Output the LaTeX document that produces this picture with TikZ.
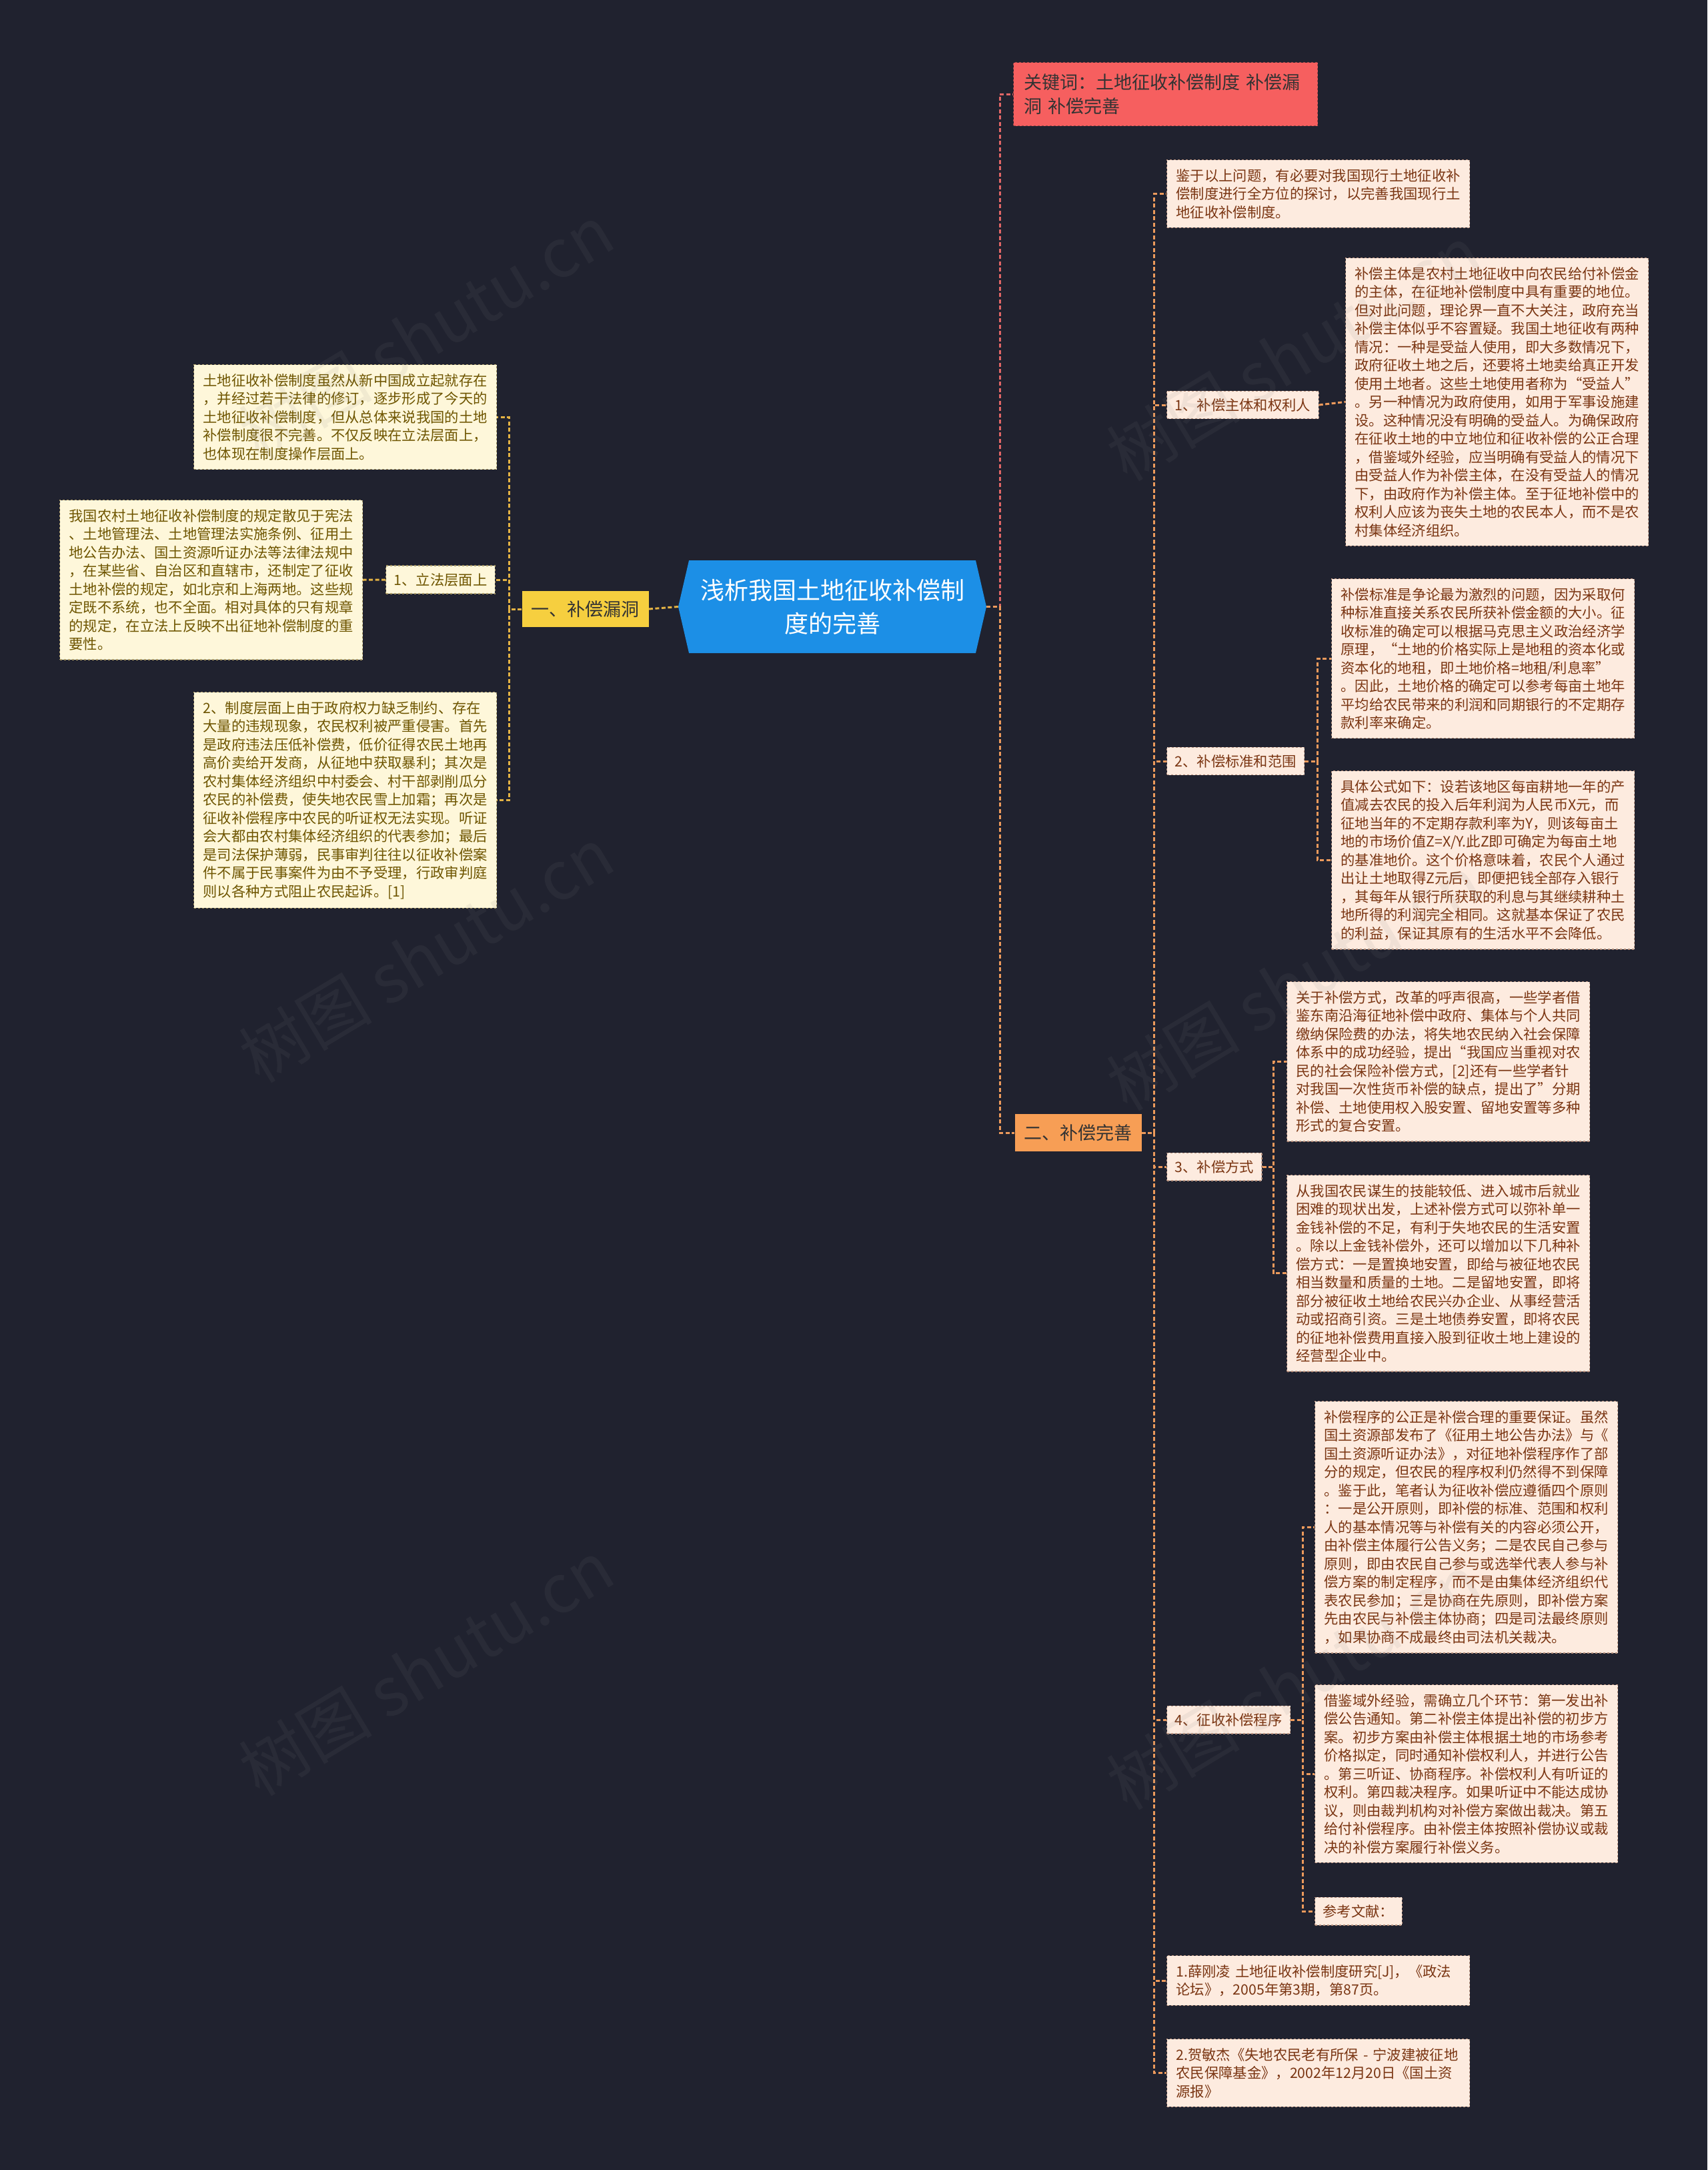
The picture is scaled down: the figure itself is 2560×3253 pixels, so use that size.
\documentclass[tikz,border=0pt]{standalone}
\usepackage{fontspec}
\setmainfont{Noto Sans CJK SC}
\usetikzlibrary{shapes.symbols}
\definecolor{bgnavy}{HTML}{20222F}
\definecolor{ctrblue}{HTML}{1C8FE6}
\definecolor{kwred}{HTML}{F65F5F}
\definecolor{kwline}{HTML}{E06666}
\definecolor{oneyel}{HTML}{F6CF3F}
\definecolor{oneline}{HTML}{E3B244}
\definecolor{twoorg}{HTML}{F79E55}
\definecolor{twoline}{HTML}{EC9A5C}
\definecolor{creamfill}{HTML}{FEF7DA}
\definecolor{creamtext}{HTML}{6E5500}
\definecolor{peachfill}{HTML}{FDEBDF}
\definecolor{peachtext}{HTML}{7A3512}
\newcommand\leaffont{\fontsize{21.3}{27.5}\selectfont}
\newcommand\branchfont{\fontsize{27}{36}\selectfont}
\newcommand\rootfont{\fontsize{36}{50}\selectfont}
\begin{document}
\begin{tikzpicture}[x=1pt,y=-1pt,
  box/.style={draw, dashed, line width=1.2pt, font=\leaffont, align=left, inner xsep=14pt, inner ysep=13.5pt},
  leafL/.style={box, fill=creamfill, draw=creamtext!60, text=creamtext, text width=426pt, anchor=north west},
  leafR/.style={box, fill=peachfill, draw=peachtext!55, text=peachtext, text width=426pt, anchor=north west},
  tagL/.style={box, fill=creamfill, draw=creamtext!60, text=creamtext, inner xsep=12pt, inner ysep=11pt},
  tagR/.style={box, fill=peachfill, draw=peachtext!55, text=peachtext, inner xsep=12pt, inner ysep=11pt},
  branch/.style={font=\branchfont, align=left, inner xsep=14pt, inner ysep=15pt, text=black!80},
  link/.style={line width=3pt, dash pattern=on 6pt off 3.5pt},
  linkL/.style={link, draw=oneline},
  linkR/.style={link, draw=twoline},
  wmark/.style={font=\fontsize{100}{100}\selectfont, text=gray, opacity=0.1, rotate=31}]
\fill[bgnavy] (0,0) rectangle (2560,3253);
\useasboundingbox (0,0) rectangle (2560,3253);

% root
\node[signal, signal to=east and west, signal pointer angle=154, fill=ctrblue, text=white,
  font=\rootfont, align=center, minimum width=462pt, minimum height=139pt, inner sep=0pt]
  (ctr) at (1248,909.5) {浅析我国土地征收补偿制\\度的完善};

% keywords
\node[branch, fill=kwred, draw=kwline!70!black, dashed, line width=1.2pt, text width=424pt,
  inner xsep=16pt, inner ysep=17pt, anchor=north west] (kw) at (1519,93)
  {关键词：土地征收补偿制度 补偿漏\\洞 补偿完善};

% left branch
\node[branch, fill=oneyel] (one) at (877.5,913) {一、补偿漏洞};
\node[leafL] (lb1) at (290,546) {土地征收补偿制度虽然从新中国成立起就存在\\，并经过若干法律的修订，逐步形成了今天的\\土地征收补偿制度，但从总体来说我国的土地\\补偿制度很不完善。不仅反映在立法层面上，\\也体现在制度操作层面上。};
\node[tagL, anchor=east] (lf) at (743,869) {1、立法层面上};
\node[leafL] (lb2) at (89,749) {我国农村土地征收补偿制度的规定散见于宪法\\、土地管理法、土地管理法实施条例、征用土\\地公告办法、国土资源听证办法等法律法规中\\，在某些省、自治区和直辖市，还制定了征收\\土地补偿的规定，如北京和上海两地。这些规\\定既不系统，也不全面。相对具体的只有规章\\的规定，在立法上反映不出征地补偿制度的重\\要性。};
\node[leafL] (lb3) at (290,1037) {2、制度层面上由于政府权力缺乏制约、存在\\大量的违规现象，农民权利被严重侵害。首先\\是政府违法压低补偿费，低价征得农民土地再\\高价卖给开发商，从征地中获取暴利；其次是\\农村集体经济组织中村委会、村干部剥削瓜分\\农民的补偿费，使失地农民雪上加霜；再次是\\征收补偿程序中农民的听证权无法实现。听证\\会大都由农村集体经济组织的代表参加；最后\\是司法保护薄弱，民事审判往往以征收补偿案\\件不属于民事案件为由不予受理，行政审判庭\\则以各种方式阻止农民起诉。[1]};

% right branch
\node[branch, fill=twoorg] (two) at (1616.5,1698) {二、补偿完善};
\node[leafR] (jy) at (1749,239) {鉴于以上问题，有必要对我国现行土地征收补\\偿制度进行全方位的探讨，以完善我国现行土\\地征收补偿制度。};
\node[tagR, anchor=west] (r1) at (1749,607) {1、补偿主体和权利人};
\node[leafR] (rb1) at (2017,386) {补偿主体是农村土地征收中向农民给付补偿金\\的主体，在征地补偿制度中具有重要的地位。\\但对此问题，理论界一直不大关注，政府充当\\补偿主体似乎不容置疑。我国土地征收有两种\\情况：一种是受益人使用，即大多数情况下，\\政府征收土地之后，还要将土地卖给真正开发\\使用土地者。这些土地使用者称为“受益人”\\。另一种情况为政府使用，如用于军事设施建\\设。这种情况没有明确的受益人。为确保政府\\在征收土地的中立地位和征收补偿的公正合理\\，借鉴域外经验，应当明确有受益人的情况下\\由受益人作为补偿主体，在没有受益人的情况\\下，由政府作为补偿主体。至于征地补偿中的\\权利人应该为丧失土地的农民本人，而不是农\\村集体经济组织。};
\node[tagR, anchor=west] (r2) at (1749,1141) {2、补偿标准和范围};
\node[leafR] (rb2a) at (1996,867) {补偿标准是争论最为激烈的问题，因为采取何\\种标准直接关系农民所获补偿金额的大小。征\\收标准的确定可以根据马克思主义政治经济学\\原理，“土地的价格实际上是地租的资本化或\\资本化的地租，即土地价格=地租/利息率”\\。因此，土地价格的确定可以参考每亩土地年\\平均给农民带来的利润和同期银行的不定期存\\款利率来确定。};
\node[leafR] (rb2b) at (1996,1155) {具体公式如下：设若该地区每亩耕地一年的产\\值减去农民的投入后年利润为人民币X元，而\\征地当年的不定期存款利率为Y，则该每亩土\\地的市场价值Z=X/Y.此Z即可确定为每亩土地\\的基准地价。这个价格意味着，农民个人通过\\出让土地取得Z元后，即便把钱全部存入银行\\，其每年从银行所获取的利息与其继续耕种土\\地所得的利润完全相同。这就基本保证了农民\\的利益，保证其原有的生活水平不会降低。};
\node[tagR, anchor=west] (r3) at (1749,1749) {3、补偿方式};
\node[leafR] (rb3a) at (1929,1471) {关于补偿方式，改革的呼声很高，一些学者借\\鉴东南沿海征地补偿中政府、集体与个人共同\\缴纳保险费的办法，将失地农民纳入社会保障\\体系中的成功经验，提出“我国应当重视对农\\民的社会保险补偿方式，[2]还有一些学者针\\对我国一次性货币补偿的缺点，提出了”分期\\补偿、土地使用权入股安置、留地安置等多种\\形式的复合安置。};
\node[leafR] (rb3b) at (1929,1761) {从我国农民谋生的技能较低、进入城市后就业\\困难的现状出发，上述补偿方式可以弥补单一\\金钱补偿的不足，有利于失地农民的生活安置\\。除以上金钱补偿外，还可以增加以下几种补\\偿方式：一是置换地安置，即给与被征地农民\\相当数量和质量的土地。二是留地安置，即将\\部分被征收土地给农民兴办企业、从事经营活\\动或招商引资。三是土地债券安置，即将农民\\的征地补偿费用直接入股到征收土地上建设的\\经营型企业中。};
\node[tagR, anchor=west] (r4) at (1749,2578) {4、征收补偿程序};
\node[leafR] (rb4a) at (1971,2100) {补偿程序的公正是补偿合理的重要保证。虽然\\国土资源部发布了《征用土地公告办法》与《\\国土资源听证办法》，对征地补偿程序作了部\\分的规定，但农民的程序权利仍然得不到保障\\。鉴于此，笔者认为征收补偿应遵循四个原则\\：一是公开原则，即补偿的标准、范围和权利\\人的基本情况等与补偿有关的内容必须公开，\\由补偿主体履行公告义务；二是农民自己参与\\原则，即由农民自己参与或选举代表人参与补\\偿方案的制定程序，而不是由集体经济组织代\\表农民参加；三是协商在先原则，即补偿方案\\先由农民与补偿主体协商；四是司法最终原则\\，如果协商不成最终由司法机关裁决。};
\node[leafR] (rb4b) at (1971,2525) {借鉴域外经验，需确立几个环节：第一发出补\\偿公告通知。第二补偿主体提出补偿的初步方\\案。初步方案由补偿主体根据土地的市场参考\\价格拟定，同时通知补偿权利人，并进行公告\\。第三听证、协商程序。补偿权利人有听证的\\权利。第四裁决程序。如果听证中不能达成协\\议，则由裁判机构对补偿方案做出裁决。第五\\给付补偿程序。由补偿主体按照补偿协议或裁\\决的补偿方案履行补偿义务。};
\node[tagR, anchor=west] (ck) at (1971,2865) {参考文献：};
\node[leafR] (ref1) at (1749,2931) {1.薛刚凌~土地征收补偿制度研究[J]，《政法\\论坛》，2005年第3期，第87页。};
\node[leafR] (ref2) at (1749,3056) {2.贺敏杰《失地农民老有所保~-~宁波建被征地\\农民保障基金》，2002年12月20日《国土资\\源报》};

% links
\draw[linkL] (ctr.west) -- (one.east);
\draw[link, draw=kwline] (ctr.east) -- ++(20,0) |- (kw.west);
\draw[linkR] (ctr.east) -- ++(20,0) |- (two.west);
\foreach \c in {lb1,lf,lb3}
  \draw[linkL] (one.west) -- ++(-19,0) |- (\c.east);
\draw[linkL] (lf.west) -- (lb2.east);
\foreach \c in {jy,r1,r2,r3,r4,ref1,ref2}
  \draw[linkR] (two.east) -- ++(19,0) |- (\c.west);
\draw[linkR] (r1.east) -- (rb1.west);
\foreach \c in {rb2a,rb2b}
  \draw[linkR] (r2.east) -- ++(19,0) |- (\c.west);
\foreach \c in {rb3a,rb3b}
  \draw[linkR] (r3.east) -- ++(17,0) |- (\c.west);
\foreach \c in {rb4a,rb4b,ck}
  \draw[linkR] (r4.east) -- ++(18,0) |- (\c.west);

% watermark
\foreach \p [count=\i] in {(639,498),(639,1431),(639,2500),(1940,529),(1940,1473),(1940,2521)}
  \node[wmark] (wm\i) at \p {树图 shutu.cn};
\end{tikzpicture}
\end{document}
